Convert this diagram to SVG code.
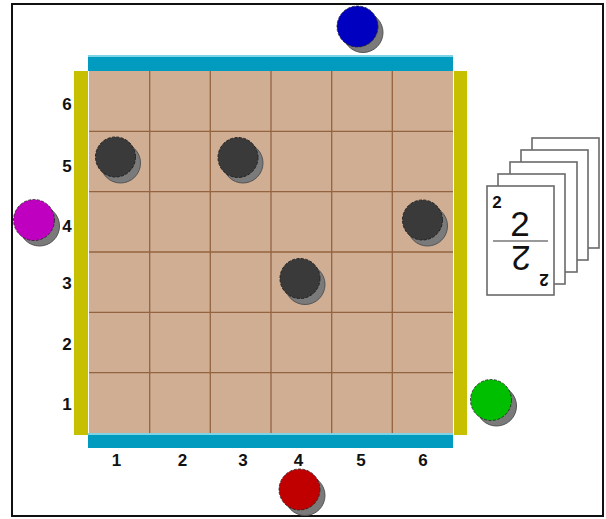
<svg xmlns="http://www.w3.org/2000/svg" width="606" height="519" viewBox="0 0 606 519">
<defs>
<style>
.lbl{font-family:"Liberation Sans",Arial,sans-serif;font-weight:bold;font-size:17px;fill:#111;text-anchor:middle}
.grid{stroke:#94633f;stroke-width:1.3}
.shadow{fill:#7a7a7a;stroke:#555;stroke-width:1}
.piece{fill:#3a3a3a;stroke:#222;stroke-width:1;stroke-dasharray:3 1.5}
.card{fill:#fff;stroke:#6a6a6a;stroke-width:1.6}
.big{font-family:"Liberation Sans",Arial,sans-serif;font-size:35px;fill:#111;text-anchor:middle}
.small{font-family:"Liberation Sans",Arial,sans-serif;font-weight:bold;font-size:17px;fill:#111;text-anchor:middle}
</style>
</defs>
<rect x="0" y="0" width="606" height="519" fill="#fff"/>
<rect id="frame" x="12" y="4" width="591" height="512" fill="#fff" stroke="#111" stroke-width="2"/>

<g id="board">
<rect x="89" y="71" width="364" height="362" fill="#cfae94"/>
<g class="grid">
<line x1="149.7" y1="71" x2="149.7" y2="433"/>
<line x1="210.3" y1="71" x2="210.3" y2="433"/>
<line x1="271" y1="71" x2="271" y2="433"/>
<line x1="331.7" y1="71" x2="331.7" y2="433"/>
<line x1="392.3" y1="71" x2="392.3" y2="433"/>
<line x1="89" y1="131.3" x2="453" y2="131.3"/>
<line x1="89" y1="191.7" x2="453" y2="191.7"/>
<line x1="89" y1="252" x2="453" y2="252"/>
<line x1="89" y1="312.3" x2="453" y2="312.3"/>
<line x1="89" y1="372.7" x2="453" y2="372.7"/>
</g>
<rect x="88" y="55" width="365" height="16" fill="#009bbf"/>
<rect x="88" y="55" width="365" height="2" fill="#7fd3e6"/>
<rect x="88" y="433" width="365" height="15" fill="#009bbf"/>
<rect x="88" y="433" width="365" height="2" fill="#7fd3e6"/>
<rect x="74" y="71" width="14" height="364" fill="#c6c000"/>
<rect x="454" y="71" width="13" height="364" fill="#c6c000"/>
</g>

<g id="row-labels">
<text class="lbl" x="67" y="109.5">6</text>
<text class="lbl" x="67" y="171.5">5</text>
<text class="lbl" x="67" y="232">4</text>
<text class="lbl" x="67" y="288.5">3</text>
<text class="lbl" x="67" y="349.5">2</text>
<text class="lbl" x="67" y="409.5">1</text>
</g>
<g id="col-labels">
<text class="lbl" x="116.5" y="466">1</text>
<text class="lbl" x="182.5" y="466">2</text>
<text class="lbl" x="243" y="466">3</text>
<text class="lbl" x="298.5" y="466">4</text>
<text class="lbl" x="361" y="466">5</text>
<text class="lbl" x="423" y="466">6</text>
</g>

<g id="pieces">
<g id="piece-1-5"><circle class="shadow" cx="120.5" cy="163" r="20"/><circle class="piece" cx="115.5" cy="157" r="20"/></g>
<g id="piece-3-5"><circle class="shadow" cx="243" cy="163" r="20"/><circle class="piece" cx="238" cy="157.5" r="20"/></g>
<g id="piece-6-4"><circle class="shadow" cx="427.5" cy="226" r="20"/><circle class="piece" cx="422.5" cy="220" r="20"/></g>
<g id="piece-4-3"><circle class="shadow" cx="305" cy="284.5" r="20"/><circle class="piece" cx="300" cy="278.5" r="20"/></g>
</g>

<g id="players">
<g id="player-blue"><circle class="shadow" cx="363" cy="32.5" r="20"/><circle cx="357.5" cy="26.5" r="20.5" fill="#0000c0" stroke="#222" stroke-width="0.8" stroke-dasharray="3 1.5"/></g>
<g id="player-magenta"><circle class="shadow" cx="39.5" cy="226" r="20"/><circle cx="34" cy="220" r="20.5" fill="#c000c0" stroke="#222" stroke-width="0.8" stroke-dasharray="3 1.5"/></g>
<g id="player-green"><circle class="shadow" cx="496.5" cy="406" r="20"/><circle cx="491" cy="400" r="20.5" fill="#00bf00" stroke="#222" stroke-width="0.8" stroke-dasharray="3 1.5"/></g>
<g id="player-red"><circle class="shadow" cx="305" cy="495.5" r="20"/><circle cx="299.5" cy="489.5" r="20.5" fill="#c00000" stroke="#222" stroke-width="0.8" stroke-dasharray="3 1.5"/></g>
</g>

<g id="cards">
<rect class="card" x="532" y="138" width="67" height="110"/>
<rect class="card" x="521" y="150" width="67" height="110"/>
<rect class="card" x="510" y="162" width="67" height="110"/>
<rect class="card" x="498" y="174" width="67" height="110"/>
<g id="card-front">
<rect class="card" x="487" y="186" width="67" height="109"/>
<text class="small" x="497" y="208">2</text>
<text class="big" x="520" y="236">2</text>
<line x1="493" y1="241" x2="548" y2="241" stroke="#777" stroke-width="1.6"/>
<g transform="rotate(180 520.5 241)">
<text class="small" x="497" y="208">2</text>
<text class="big" x="520" y="236">2</text>
</g>
</g>
</g>
</svg>
